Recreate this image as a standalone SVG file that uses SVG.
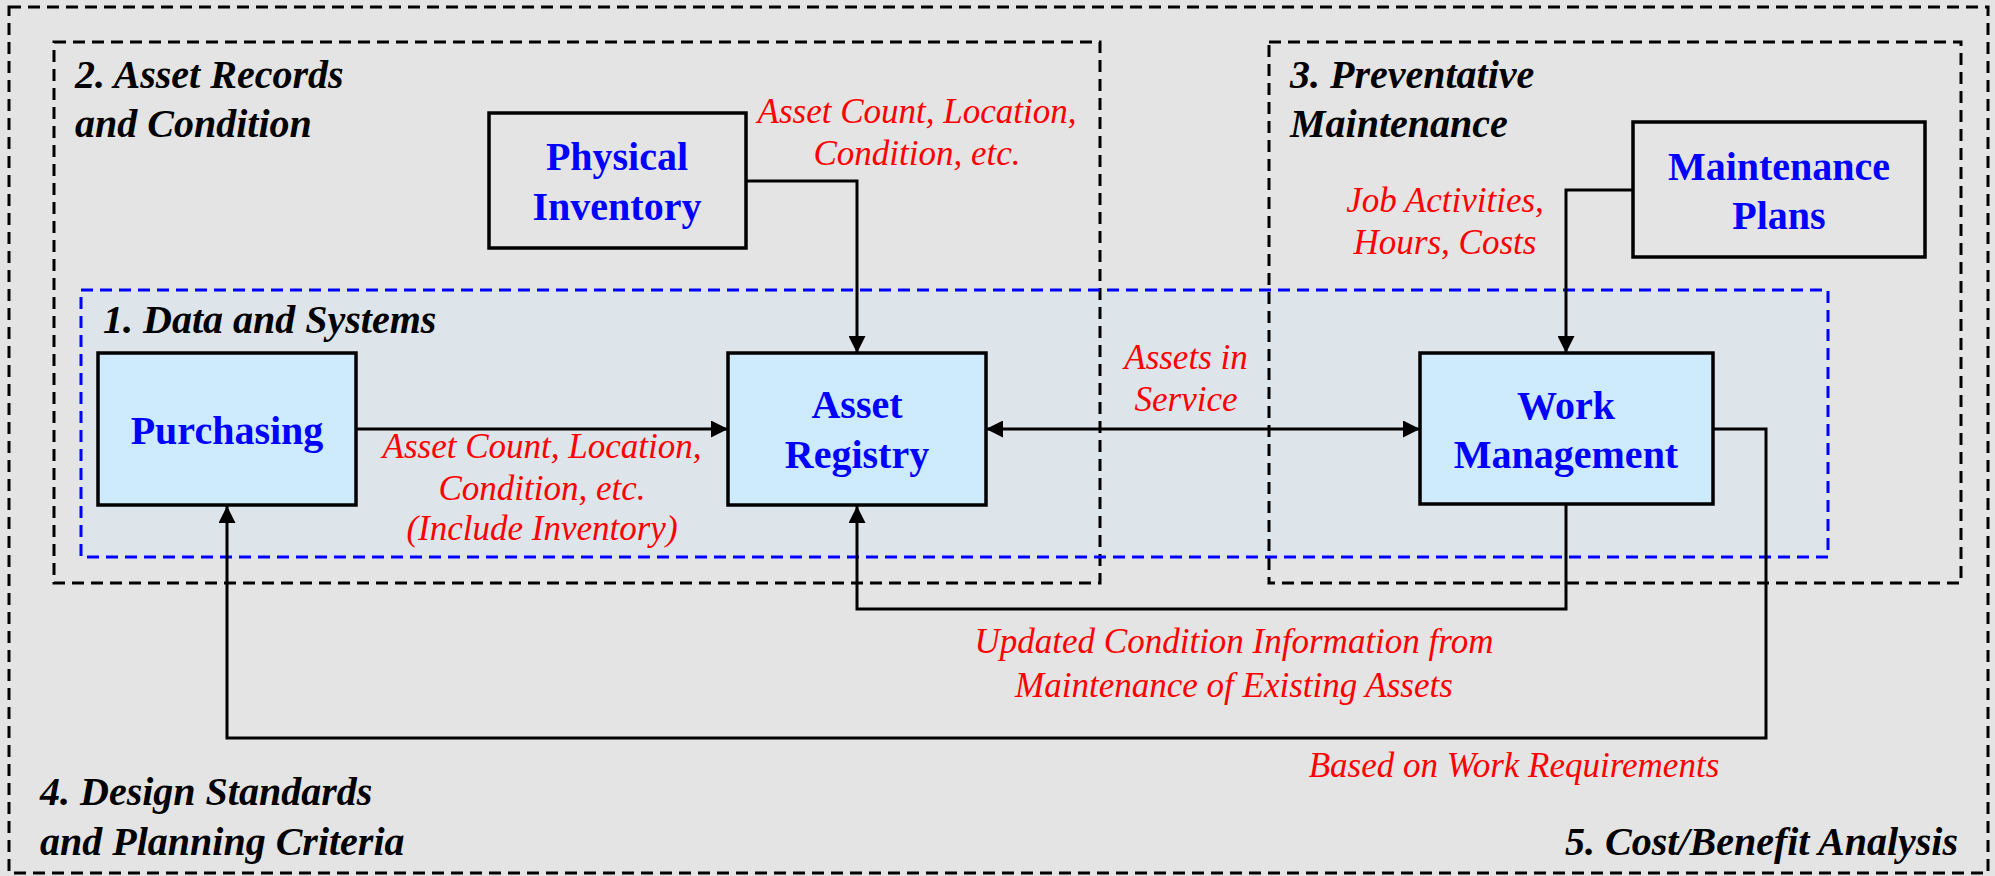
<svg xmlns="http://www.w3.org/2000/svg" width="1995" height="876" viewBox="0 0 1995 876">
  <defs>
    <marker id="arrow" viewBox="0 0 17 17" refX="17" refY="8.5" markerWidth="17" markerHeight="17" markerUnits="userSpaceOnUse" orient="auto-start-reverse">
      <path d="M0,0 L17,8.5 L0,17 z" fill="#000"/>
    </marker>
    <style>
      .zone { fill: none; stroke: #000; stroke-width: 3; stroke-dasharray: 12 7; }
      .zone-blue { fill: none; stroke: #0000ff; stroke-width: 3; stroke-dasharray: 12 7; }
      .title { font-family: "Liberation Serif", "Times New Roman", serif; font-size: 40px; font-weight: bold; font-style: italic; fill: #000; }
      .node-sys { fill: #cdebfc; stroke: #000; stroke-width: 3.5; }
      .node-ext { fill: none; stroke: #000; stroke-width: 3.5; }
      .node-label { font-family: "Liberation Serif", "Times New Roman", serif; font-size: 40px; font-weight: bold; fill: #0000ff; text-anchor: middle; }
      .flow { fill: none; stroke: #000; stroke-width: 3; }
      .flow-label { font-family: "Liberation Serif", "Times New Roman", serif; font-size: 35px; font-style: italic; fill: #ff0000; text-anchor: middle; }
    </style>
  </defs>

  <!-- canvas -->
  <rect x="0" y="0" width="1995" height="876" fill="#e4e4e4"/>

  <!-- 1. Data and Systems region background -->
  <rect x="81" y="290" width="1747" height="267" fill="#dde4ea"/>

  <!-- zone outlines -->
  <g id="zones">
    <rect id="zone-outer" class="zone" x="9" y="7" width="1979" height="866"/>
    <rect id="zone-asset-records" class="zone" x="54" y="42" width="1046" height="541"/>
    <rect id="zone-preventative" class="zone" x="1269" y="42" width="692" height="541"/>
    <rect id="zone-data-systems" class="zone-blue" x="81" y="290" width="1747" height="267"/>
  </g>

  <!-- zone titles -->
  <g id="titles">
    <text class="title" x="75" y="88">2. Asset Records</text>
    <text class="title" x="75" y="137">and Condition</text>
    <text class="title" x="1290" y="88">3. Preventative</text>
    <text class="title" x="1290" y="137">Maintenance</text>
    <text class="title" x="103" y="333">1. Data and Systems</text>
    <text class="title" x="40" y="805">4. Design Standards</text>
    <text class="title" x="40" y="855">and Planning Criteria</text>
    <text class="title" x="1958" y="855" text-anchor="end">5. Cost/Benefit Analysis</text>
  </g>

  <!-- connectors -->
  <g id="connectors">
    <path class="flow" d="M746,181 H857 V353" marker-end="url(#arrow)"/>
    <path class="flow" d="M1633,190 H1566 V353" marker-end="url(#arrow)"/>
    <path class="flow" d="M356,429 H728" marker-end="url(#arrow)"/>
    <path class="flow" d="M986,429 H1420" marker-start="url(#arrow)" marker-end="url(#arrow)"/>
    <path class="flow" d="M1566,505 V609 H857 V506" marker-end="url(#arrow)"/>
    <path class="flow" d="M1713,429 H1766 V738 H227 V506" marker-end="url(#arrow)"/>

    <text class="flow-label" x="917" y="123">Asset Count, Location,</text>
    <text class="flow-label" x="917" y="165">Condition, etc.</text>
    <text class="flow-label" x="542" y="458">Asset Count, Location,</text>
    <text class="flow-label" x="542" y="500">Condition, etc.</text>
    <text class="flow-label" x="542" y="540">(Include Inventory)</text>
    <text class="flow-label" x="1186" y="369">Assets in</text>
    <text class="flow-label" x="1186" y="411">Service</text>
    <text class="flow-label" x="1445" y="212">Job Activities,</text>
    <text class="flow-label" x="1445" y="254">Hours, Costs</text>
    <text class="flow-label" x="1234" y="653">Updated Condition Information from</text>
    <text class="flow-label" x="1234" y="697">Maintenance of Existing Assets</text>
    <text class="flow-label" x="1514" y="777">Based on Work Requirements</text>
  </g>

  <!-- nodes -->
  <g id="physical-inventory">
    <rect class="node-ext" x="489" y="113" width="257" height="135"/>
    <text class="node-label" x="617" y="170">Physical</text>
    <text class="node-label" x="617" y="220">Inventory</text>
  </g>

  <g id="maintenance-plans">
    <rect class="node-ext" x="1633" y="122" width="292" height="135"/>
    <text class="node-label" x="1779" y="180">Maintenance</text>
    <text class="node-label" x="1779" y="229">Plans</text>
  </g>

  <g id="purchasing">
    <rect class="node-sys" x="98" y="353" width="258" height="152"/>
    <text class="node-label" x="227" y="444">Purchasing</text>
  </g>

  <g id="asset-registry">
    <rect class="node-sys" x="728" y="353" width="258" height="152"/>
    <text class="node-label" x="857" y="418">Asset</text>
    <text class="node-label" x="857" y="468">Registry</text>
  </g>

  <g id="work-management">
    <rect class="node-sys" x="1420" y="353" width="293" height="151"/>
    <text class="node-label" x="1566" y="419">Work</text>
    <text class="node-label" x="1566" y="468">Management</text>
  </g>
</svg>
